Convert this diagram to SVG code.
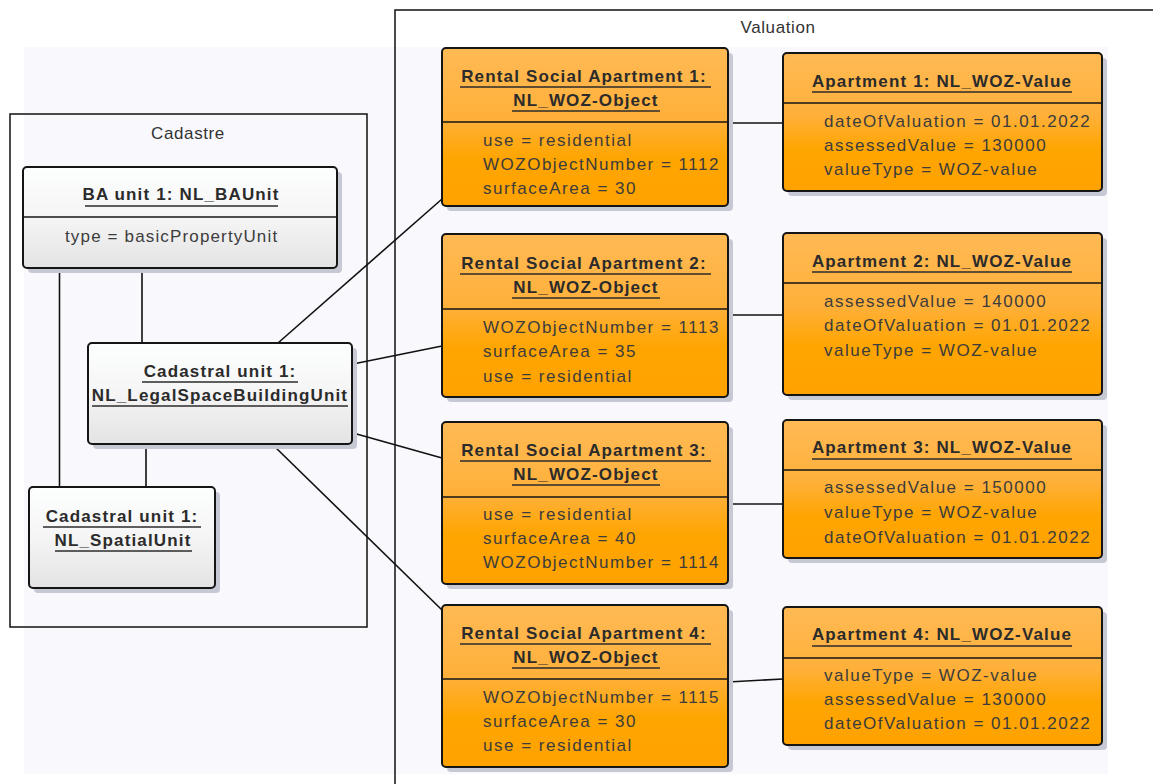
<svg xmlns="http://www.w3.org/2000/svg" width="1153" height="784" viewBox="0 0 1153 784">
<style>
.frame{fill:none;stroke:#111;stroke-width:1.5}
.flabel{font-family:"Liberation Sans",Arial,sans-serif;font-size:17px;fill:#333;text-anchor:middle;letter-spacing:0.6px}
.shadow{fill:#c6c8d4}
.obox{fill:url(#og);stroke:#151515;stroke-width:2}
.gbox{fill:url(#gg);stroke:#151515;stroke-width:2}
.sep{stroke:#151515;stroke-width:1.6}
.ul{stroke:#2b2b2b;stroke-width:1.6}
.title{font-family:"Liberation Sans",Arial,sans-serif;font-size:17px;font-weight:bold;fill:#2b2b2b;text-anchor:middle;letter-spacing:1.15px}
.attr{font-family:"Liberation Sans",Arial,sans-serif;font-size:17px;fill:#3c3c3c;letter-spacing:1.5px}
.attr2{font-family:"Liberation Sans",Arial,sans-serif;font-size:17px;fill:#3c3c3c;letter-spacing:1.15px}
.conn line{stroke:#111;stroke-width:1.6}
</style>
<defs>
<linearGradient id="og" x1="0" y1="0" x2="0" y2="1">
<stop offset="0" stop-color="#ffba55"/>
<stop offset="0.45" stop-color="#ffb03a"/>
<stop offset="0.7" stop-color="#ffa500"/>
<stop offset="1" stop-color="#ffa200"/>
</linearGradient>
<linearGradient id="gg" x1="0" y1="0" x2="0" y2="1">
<stop offset="0" stop-color="#fdfefe"/>
<stop offset="0.5" stop-color="#f5f5f5"/>
<stop offset="1" stop-color="#e3e3e3"/>
</linearGradient>
</defs>
<rect x="0" y="0" width="1153" height="784" fill="#ffffff"/>
<rect x="24" y="47" width="1084" height="727" fill="#f9f9fd"/>

<g id="frame-cadastre">
<rect class="frame" x="10" y="114" width="357" height="513"/>
<text class="flabel" x="188" y="139">Cadastre</text>
</g>
<g id="frame-valuation">
<path class="frame" d="M395 784 V10 H1153"/>
<text class="flabel" x="778" y="33">Valuation</text>
</g>

<g id="connectors" class="conn">
<line x1="59.5" y1="268" x2="59.5" y2="487"/>
<line x1="142" y1="268" x2="142" y2="343"/>
<line x1="146" y1="444" x2="146" y2="487"/>
<line x1="278" y1="343" x2="442" y2="199"/>
<line x1="353" y1="364" x2="442" y2="346"/>
<line x1="353" y1="433" x2="442" y2="458"/>
<line x1="273" y1="445" x2="442" y2="610"/>
<line x1="728" y1="123" x2="783" y2="123"/>
<line x1="728" y1="315" x2="783" y2="315"/>
<line x1="728" y1="504" x2="783" y2="504"/>
<line x1="728" y1="682" x2="783" y2="679"/>
</g>

<g id="ba-unit">
<rect class="shadow" x="28" y="172" width="314" height="101" rx="4"/>
<rect class="gbox" x="23" y="167" width="314" height="101" rx="4"/>
<line class="sep" x1="23" y1="217" x2="337" y2="217"/>
<text class="title" x="181" y="200">BA unit 1: NL_BAUnit</text>
<line class="ul" x1="85" y1="206" x2="278" y2="206"/>
<text class="attr2" x="65" y="242">type = basicPropertyUnit</text>
</g>

<g id="cadastral-lsbu">
<rect class="shadow" x="93" y="348" width="264" height="101" rx="4"/>
<rect class="gbox" x="88" y="343" width="264" height="101" rx="4"/>
<text class="title" x="220" y="377">Cadastral unit 1:</text>
<line class="ul" x1="142" y1="382" x2="298" y2="382"/>
<text class="title" x="220" y="401">NL_LegalSpaceBuildingUnit</text>
<line class="ul" x1="92" y1="406" x2="348" y2="406"/>
</g>

<g id="cadastral-spatial">
<rect class="shadow" x="34" y="492" width="186" height="101" rx="4"/>
<rect class="gbox" x="29" y="487" width="186" height="101" rx="4"/>
<text class="title" x="122" y="522">Cadastral unit 1:</text>
<line class="ul" x1="43" y1="527" x2="201" y2="527"/>
<text class="title" x="123" y="546">NL_SpatialUnit</text>
<line class="ul" x1="55" y1="551" x2="192" y2="551"/>
</g>

<g id="rental-1">
<rect class="shadow" x="447" y="53" width="286" height="158" rx="4"/>
<rect class="obox" x="442" y="48" width="286" height="158" rx="4"/>
<line class="sep" x1="442" y1="122" x2="728" y2="122"/>
<text class="title" x="584" y="82">Rental Social Apartment 1:</text>
<line class="ul" x1="460" y1="87" x2="711" y2="87"/>
<text class="title" x="586" y="106">NL_WOZ-Object</text>
<line class="ul" x1="512" y1="111" x2="660" y2="111"/>
<text class="attr" x="483" y="146">use = residential</text>
<text class="attr" x="483" y="170">WOZObjectNumber = 1112</text>
<text class="attr" x="483" y="194">surfaceArea = 30</text>
</g>

<g id="rental-2">
<rect class="shadow" x="447" y="239" width="286" height="163" rx="4"/>
<rect class="obox" x="442" y="234" width="286" height="163" rx="4"/>
<line class="sep" x1="442" y1="309" x2="728" y2="309"/>
<text class="title" x="584" y="269">Rental Social Apartment 2:</text>
<line class="ul" x1="460" y1="274" x2="711" y2="274"/>
<text class="title" x="586" y="293">NL_WOZ-Object</text>
<line class="ul" x1="512" y1="298" x2="660" y2="298"/>
<text class="attr" x="483" y="333">WOZObjectNumber = 1113</text>
<text class="attr" x="483" y="357">surfaceArea = 35</text>
<text class="attr" x="483" y="382">use = residential</text>
</g>

<g id="rental-3">
<rect class="shadow" x="447" y="427" width="286" height="162" rx="4"/>
<rect class="obox" x="442" y="422" width="286" height="162" rx="4"/>
<line class="sep" x1="442" y1="497" x2="728" y2="497"/>
<text class="title" x="584" y="456">Rental Social Apartment 3:</text>
<line class="ul" x1="460" y1="461" x2="711" y2="461"/>
<text class="title" x="586" y="480">NL_WOZ-Object</text>
<line class="ul" x1="512" y1="485" x2="660" y2="485"/>
<text class="attr" x="483" y="520">use = residential</text>
<text class="attr" x="483" y="544">surfaceArea = 40</text>
<text class="attr" x="483" y="568">WOZObjectNumber = 1114</text>
</g>

<g id="rental-4">
<rect class="shadow" x="447" y="610" width="286" height="162" rx="4"/>
<rect class="obox" x="442" y="605" width="286" height="162" rx="4"/>
<line class="sep" x1="442" y1="679" x2="728" y2="679"/>
<text class="title" x="584" y="639">Rental Social Apartment 4:</text>
<line class="ul" x1="460" y1="644" x2="711" y2="644"/>
<text class="title" x="586" y="663">NL_WOZ-Object</text>
<line class="ul" x1="512" y1="668" x2="660" y2="668"/>
<text class="attr" x="483" y="703">WOZObjectNumber = 1115</text>
<text class="attr" x="483" y="727">surfaceArea = 30</text>
<text class="attr" x="483" y="751">use = residential</text>
</g>

<g id="apartment-1">
<rect class="shadow" x="788" y="58" width="319" height="138" rx="4"/>
<rect class="obox" x="783" y="53" width="319" height="138" rx="4"/>
<line class="sep" x1="783" y1="103" x2="1102" y2="103"/>
<text class="title" x="942" y="87">Apartment 1: NL_WOZ-Value</text>
<line class="ul" x1="812" y1="92" x2="1072" y2="92"/>
<text class="attr" x="824" y="127">dateOfValuation = 01.01.2022</text>
<text class="attr" x="824" y="151">assessedValue = 130000</text>
<text class="attr" x="824" y="175">valueType = WOZ-value</text>
</g>

<g id="apartment-2">
<rect class="shadow" x="788" y="238" width="319" height="162" rx="4"/>
<rect class="obox" x="783" y="233" width="319" height="162" rx="4"/>
<line class="sep" x1="783" y1="283" x2="1102" y2="283"/>
<text class="title" x="942" y="267">Apartment 2: NL_WOZ-Value</text>
<line class="ul" x1="812" y1="272" x2="1072" y2="272"/>
<text class="attr" x="824" y="307">assessedValue = 140000</text>
<text class="attr" x="824" y="331">dateOfValuation = 01.01.2022</text>
<text class="attr" x="824" y="356">valueType = WOZ-value</text>
</g>

<g id="apartment-3">
<rect class="shadow" x="788" y="425" width="319" height="138" rx="4"/>
<rect class="obox" x="783" y="420" width="319" height="138" rx="4"/>
<line class="sep" x1="783" y1="470" x2="1102" y2="470"/>
<text class="title" x="942" y="453">Apartment 3: NL_WOZ-Value</text>
<line class="ul" x1="812" y1="459" x2="1072" y2="459"/>
<text class="attr" x="824" y="493">assessedValue = 150000</text>
<text class="attr" x="824" y="518">valueType = WOZ-value</text>
<text class="attr" x="824" y="543">dateOfValuation = 01.01.2022</text>
</g>

<g id="apartment-4">
<rect class="shadow" x="788" y="612" width="319" height="138" rx="4"/>
<rect class="obox" x="783" y="607" width="319" height="138" rx="4"/>
<line class="sep" x1="783" y1="658" x2="1102" y2="658"/>
<text class="title" x="942" y="640">Apartment 4: NL_WOZ-Value</text>
<line class="ul" x1="812" y1="646" x2="1072" y2="646"/>
<text class="attr" x="824" y="681">valueType = WOZ-value</text>
<text class="attr" x="824" y="705">assessedValue = 130000</text>
<text class="attr" x="824" y="729">dateOfValuation = 01.01.2022</text>
</g>
</svg>
